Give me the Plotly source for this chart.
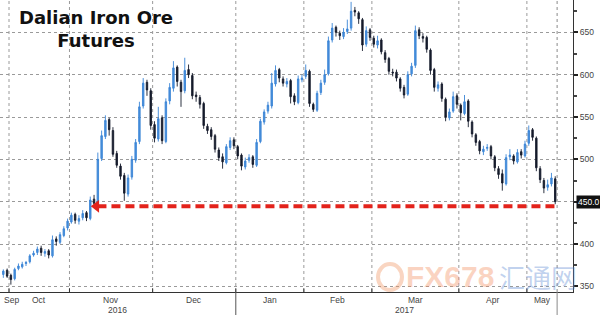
import plotly.graph_objects as go

# ---------------- data (daily candles, trading-day index) ----------------
opens = [364,369,363,359,371,373,377,379,387,390,
         395,389,392,386,406,402,410,419,426,435,
         427,431,437,430,453,447,501,527,547,534,
         507,492,481,459,479,499,521,563,591,581,
         541,524,549,521,569,584,609,591,581,606,
         599,576,573,566,539,535,528,511,503,496,
         514,523,515,505,491,499,503,493,521,544,
         557,563,589,606,595,589,593,575,567,594,
         598,604,565,558,579,591,601,641,656,649,
         645,651,655,676,673,665,636,653,643,635,
         641,626,619,603,603,595,585,577,601,611,
         653,645,644,629,606,584,589,571,549,557,
         575,564,554,569,544,529,521,509,513,515,
         503,489,483,471,503,504,497,509,504,519,
         535,525,489,475,467,471,477]
highs = [370,371,365,372,377,379,380,388,392,397,
         398,394,394,410,409,414,421,430,437,437,
         434,440,439,456,458,508,534,552,549,538,
         510,495,484,482,504,524,568,596,594,584,
         545,562,552,572,590,616,611,594,620,612,
         602,580,576,568,542,538,530,514,507,518,
         526,526,517,507,502,506,505,524,548,559,
         568,602,611,608,598,596,595,578,599,600,
         612,606,567,581,594,606,645,661,658,652,
         655,665,686,680,675,667,657,655,646,646,
         643,629,621,607,606,597,588,604,614,658,
         656,649,646,631,608,592,591,573,560,580,
         578,566,576,571,546,531,523,516,518,517,
         505,492,488,506,512,506,512,512,522,540,
         537,527,492,478,476,484,480]
lows = [360,360,352,357,369,371,374,377,385,387,
        386,385,383,384,398,400,408,416,424,424,
        423,428,427,428,443,445,498,524,528,503,
        490,476,451,456,476,496,518,560,575,535,
        520,521,518,519,565,580,586,562,578,596,
        571,568,560,536,530,523,508,498,489,494,
        511,512,500,487,488,496,490,491,519,541,
        554,560,586,591,586,585,566,564,565,591,
        595,562,556,556,576,588,599,638,645,641,
        642,648,652,669,660,628,633,640,632,631,
        624,614,600,598,592,580,572,575,598,608,
        642,638,626,600,580,580,568,545,546,555,
        560,546,552,538,526,516,506,505,510,500,
        486,477,463,469,499,494,495,501,502,516,
        522,486,472,460,463,468,447]
closes = [368,362,358,370,374,376,378,386,389,394,
          390,391,387,405,403,411,418,427,434,428,
          430,436,431,452,448,500,528,546,535,506,
          493,480,460,478,500,520,562,590,582,540,
          525,548,522,568,585,608,592,580,605,600,
          575,574,565,540,534,527,512,502,497,515,
          522,516,504,492,498,502,494,520,545,556,
          564,590,605,596,590,592,574,568,595,596,
          605,566,559,578,590,600,640,655,650,646,
          650,654,675,674,666,635,652,644,636,640,
          627,618,604,602,596,584,576,600,610,652,
          646,643,630,605,585,588,572,550,556,574,
          565,555,568,545,530,520,510,512,514,504,
          490,482,472,502,505,498,508,505,518,534,
          526,490,476,466,470,478,450]

month_labels = ["Sep", "Oct", "Nov", "Dec", "Jan", "Feb", "Mar", "Apr", "May"]
# index (trading day) where each month boundary falls (between candles)
month_bounds = [1.5, 17.5, 39.5, 61.5, 79.5, 97.5, 120.5, 138.5]
year_labels = ["2016", "2017"]
year_bound = 61.5
y_ticks = [350, 400, 450, 500, 550, 600, 650]
last_price_label = "450.0"
support_level = 444.5
support_from = 23.7

title_text = "Dalian Iron Ore<br>Futures"

# ---------------- figure ----------------
n = len(closes)
xs = list(range(n))
x_min, x_max = -0.88, 150.7
y_min, y_max = 343.3, 688.2
last_edge = n - 0.5
label_font = dict(family="Liberation Sans", size=8.5, color="#444")

fig = go.Figure()
fig.add_trace(go.Candlestick(
    x=xs, open=opens, high=highs, low=lows, close=closes,
    increasing=dict(line=dict(color="#3a84d6", width=0.9), fillcolor="#4a90dc"),
    decreasing=dict(line=dict(color="#151b2b", width=0.9), fillcolor="#151b2b"),
    whiskerwidth=0, hoverinfo="skip", showlegend=False,
))

# red dashed support arrow
fig.add_trace(go.Scatter(
    x=[support_from + 1.2, last_edge - 0.3], y=[support_level, support_level],
    mode="lines", line=dict(color="#e3231b", width=4, dash="9px,5px"),
    hoverinfo="skip", showlegend=False))
fig.add_trace(go.Scatter(
    x=[support_from + 0.9], y=[support_level], mode="markers",
    marker=dict(symbol="triangle-left", size=11, color="#e3231b"),
    hoverinfo="skip", showlegend=False))

shapes = []
# vertical dotted gridlines at month boundaries
for b in month_bounds:
    shapes.append(dict(type="line", xref="x", yref="paper", x0=b, x1=b, y0=0, y1=1,
                       line=dict(color="#9a9a9a", width=1, dash="dot"), layer="below"))
    shapes.append(dict(type="line", xref="x", yref="paper", x0=b, x1=b, y0=0, y1=0.013,
                       line=dict(color="#333", width=1)))
# current-date marker line
shapes.append(dict(type="line", xref="x", yref="paper", x0=last_edge, x1=last_edge, y0=0, y1=1,
                   line=dict(color="#8a8a8a", width=1, dash="dot")))
shapes.append(dict(type="line", xref="x", yref="paper", x0=last_edge, x1=last_edge, y0=-0.08, y1=0,
                   line=dict(color="#8a8a8a", width=1)))
# year separator below axis
shapes.append(dict(type="line", xref="x", yref="paper", x0=year_bound, x1=year_bound, y0=-0.08, y1=0,
                   line=dict(color="#555", width=1)))
# watermark ring
shapes.append(dict(type="circle", xref="paper", yref="paper",
                   x0=378/573, x1=402/573, y0=1-290/292, y1=1-264/292,
                   line=dict(color="rgba(240,150,100,0.40)", width=4)))

annotations = []
# month labels
edges = [x_min] + month_bounds + [last_edge]
for k, lab in enumerate(month_labels):
    if k == 0:
        annotations.append(dict(x=x_min + 0.4, y=-0.004, xref="x", yref="paper", text=lab,
                                showarrow=False, xanchor="left", yanchor="top", font=label_font))
    else:
        mid = (edges[k] + edges[k + 1]) / 2
        annotations.append(dict(x=mid, y=-0.004, xref="x", yref="paper", text=lab,
                                showarrow=False, xanchor="center", yanchor="top", font=label_font))
year_mids = [(x_min + year_bound) / 2, (year_bound + x_max) / 2]
for ym, lab in zip(year_mids, year_labels):
    annotations.append(dict(x=ym, y=-0.038, xref="x", yref="paper", text=lab,
                            showarrow=False, xanchor="center", yanchor="top", font=label_font))
# title
annotations.append(dict(x=96/573, y=1-5/292, xref="paper", yref="paper", text="<b>" + title_text + "</b>",
                        showarrow=False, xanchor="center", yanchor="top", align="center",
                        font=dict(family="DejaVu Sans", size=18, color="#111")))
# last price tag
annotations.append(dict(x=576/573, y=closes[-1], xref="paper", yref="y", text=last_price_label,
                        showarrow=False, xanchor="left", yanchor="middle", bgcolor="#111",
                        borderpad=1, font=dict(family="Liberation Sans", size=8.5, color="white")))
# watermark text
annotations.append(dict(x=450/573, y=1-276/292, xref="paper", yref="paper", text="<b>FX678</b>",
                        showarrow=False, xanchor="center", yanchor="middle",
                        font=dict(family="Liberation Sans", size=30, color="rgba(244,140,90,0.38)")))
annotations.append(dict(x=538/573, y=1-276/292, xref="paper", yref="paper", text="汇通网",
                        showarrow=False, xanchor="center", yanchor="middle",
                        font=dict(family="Noto Sans CJK SC", size=26, color="rgba(90,135,210,0.38)")))

# the 450 tick label is hidden behind the last-price tag in the reference
y_ticktext = ["" if v == 450 else str(v) for v in y_ticks]

fig.update_layout(
    width=600, height=315,
    margin=dict(l=0, r=27, t=0, b=23),
    paper_bgcolor="white", plot_bgcolor="white",
    showlegend=False, hovermode=False, boxgap=0.45,
    shapes=shapes, annotations=annotations,
    xaxis=dict(range=[x_min, x_max], rangeslider=dict(visible=False),
               showticklabels=False, ticks="", showgrid=False, zeroline=False,
               showline=True, linecolor="#333", linewidth=1, fixedrange=True),
    yaxis=dict(range=[y_min, y_max], side="right", tickvals=y_ticks, ticktext=y_ticktext,
               showgrid=True, gridcolor="#9a9a9a", griddash="dot", gridwidth=1,
               zeroline=False, showline=True, linecolor="#333", linewidth=1,
               ticks="outside", ticklen=4, tickwidth=2, tickcolor="#222",
               minor=dict(dtick=25, tick0=325, ticks="outside", ticklen=3, tickcolor="#444", showgrid=False),
               tickfont=dict(family="Liberation Sans", size=8.5, color="#444"),
               fixedrange=True),
)

fig.write_html("out.html")
